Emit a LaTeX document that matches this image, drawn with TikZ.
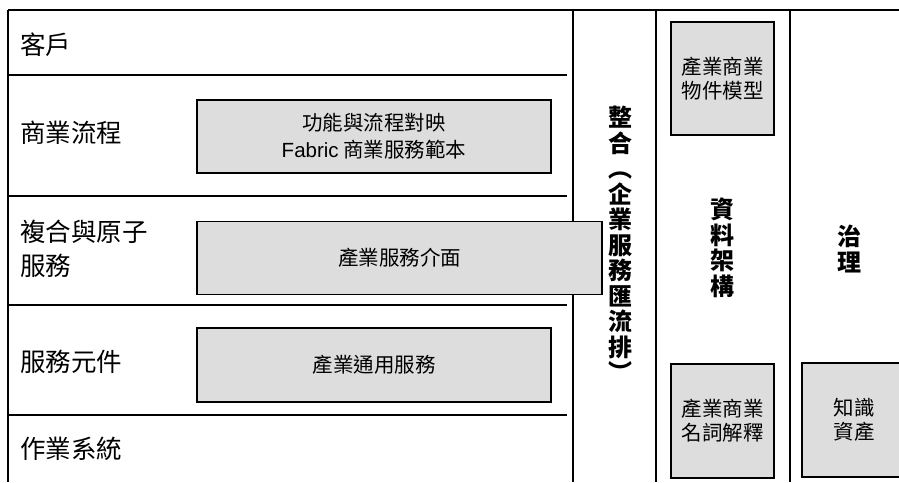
\documentclass[tikz,border=0pt]{standalone}
\usepackage{fontspec}
\setmainfont{Liberation Sans}
\newfontfamily\cjk{Noto Sans CJK TC}
\definecolor{boxgray}{RGB}{220,221,220}
\begin{document}
\begin{tikzpicture}[x=1pt,y=-1pt,
  frameline/.style={line width=1.7pt, draw=black},
  graybox/.style={draw=black, line width=1.4pt, fill=boxgray, inner sep=0pt, align=center},
  lbl/.style={font=\cjk\fontsize{25.5}{34}\selectfont, anchor=west, align=left, inner sep=0pt},
  boxtxt/.style={font=\cjk\fontsize{20.5}{24}\selectfont},
  vtxt/.style={font=\cjk\bfseries\fontsize{24}{25.5}\selectfont, align=center, inner sep=0pt}]
\useasboundingbox (0,0) rectangle (899,482);
% frame lines
\draw[frameline] (8,10) -- (899,10);
\draw[frameline] (8,10) -- (8,482);
\draw[frameline] (573,10) -- (573,482);
\draw[frameline] (656,10) -- (656,482);
\draw[frameline] (790,10) -- (790,482);
\draw[frameline] (8,75) -- (567,75);
\draw[frameline] (8,196) -- (567,196);
\draw[frameline] (8,305) -- (567,305);
\draw[frameline] (8,415) -- (567,415);
% row labels
\node[lbl] (kehu) at (20,45) {客戶};
\node[lbl] (liucheng) at (20,133) {商業流程};
\node[lbl] (fuhe) at (20,249) {複合與原子\\服務};
\node[lbl] (yuanjian) at (20,362) {服務元件};
\node[lbl] (zuoye) at (20,449) {作業系統};
% grey boxes
\node[graybox, minimum width=354pt, minimum height=73pt, font=\cjk\fontsize{20.5}{27}\selectfont] (map) at (374,136.5) {功能與流程對映\\{\rmfamily Fabric} 商業服務範本};
\node[graybox, minimum width=405pt, minimum height=73pt, boxtxt] (iface) at (399.5,258) {產業服務介面};
\node[graybox, minimum width=354pt, minimum height=74pt, boxtxt] (common) at (374,365) {產業通用服務};
\node[graybox, minimum width=103pt, minimum height=113pt, boxtxt] (model) at (722.5,78.5) {產業商業\\物件模型};
\node[graybox, minimum width=103pt, minimum height=114pt, boxtxt] (gloss) at (722.5,421) {產業商業\\名詞解釋};
\node[graybox, minimum width=104pt, minimum height=114pt, boxtxt] (know) at (854,420) {知識\\資產};
% vertical labels
\node[vtxt] (esb) at (620,244) {整\\合\\︵\\企\\業\\服\\務\\匯\\流\\排\\︶};
\node[vtxt] (data) at (722,248) {資\\料\\架\\構};
\node[vtxt] (gov) at (849.5,249) {治\\理};
\end{tikzpicture}
\end{document}
